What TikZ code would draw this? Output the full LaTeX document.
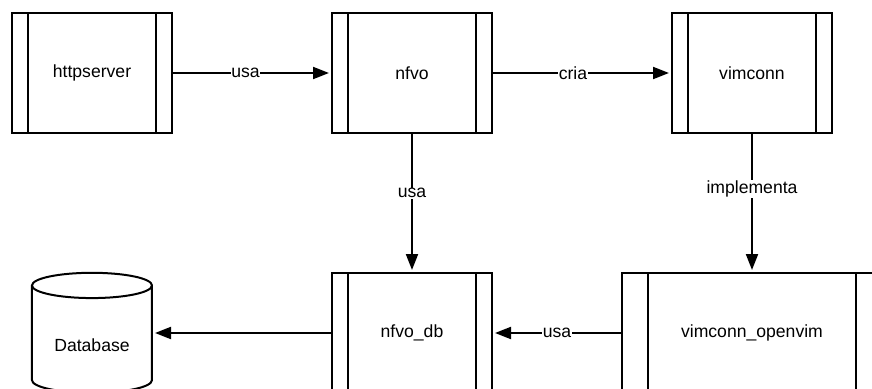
\documentclass[tikz,border=0pt]{standalone}
\usepackage{fontspec}
\setmainfont{Liberation Sans}
\usetikzlibrary{shapes.geometric, arrows.meta, positioning}

\begin{document}
\begin{tikzpicture}[
    x=0.75pt, y=-0.75pt,
    node distance=105pt and 120pt,
    module/.style={rectangle, draw, line width=1.5pt, outer sep=0pt, minimum width=#1, minimum height=90pt, font=\fontsize{13.2pt}{15pt}\selectfont},
    module/.default=120pt,
    bars/.style={path picture={
        \draw[line width=1.5pt] ([xshift=#1]path picture bounding box.north west) -- ([xshift=#1]path picture bounding box.south west);
        \draw[line width=1.5pt] ([xshift=-#1]path picture bounding box.north east) -- ([xshift=-#1]path picture bounding box.south east);
    }},
    bars/.default=12pt,
    store/.style={cylinder, shape border rotate=90, draw, line width=1.5pt, outer sep=0pt, aspect=0.3, minimum width=90pt, minimum height=90pt, text height=14pt, font=\fontsize{13.2pt}{15pt}\selectfont},
    arrow/.style={-{Triangle[length=12pt, width=9pt]}, line width=1.5pt, shorten >=2.25pt},
    tag/.style={fill=white, inner sep=0.5pt, font=\fontsize{13.2pt}{15pt}\selectfont}
]

\useasboundingbox (0,0) rectangle (872,389);
\clip (0,0) rectangle (872,389);

\node[module, bars] at (92,73) (httpserver) {httpserver};
\node[module, bars, right=of httpserver] (nfvo) {nfvo};
\node[module, bars, right=135pt of nfvo] (vimconn) {vimconn};
\node[module, bars, below=of nfvo] (nfvodb) {nfvo\_db};
\node[module=195pt, bars=19.5pt, below=of vimconn] (openvim) {vimconn\_openvim};
\node[store, left=135pt of nfvodb, yshift=-6.75pt] (database) {Database};

\draw[arrow] (httpserver) -- node[tag, pos=.46] {usa} (nfvo);
\draw[arrow] (nfvo) -- node[tag, pos=.45] {cria} (vimconn);
\draw[arrow] (nfvo) -- node[tag, pos=.43] {usa} (nfvodb);
\draw[arrow] (vimconn) -- node[tag, pos=.4] {implementa} (openvim);
\draw[arrow] (openvim) -- node[tag, pos=.5] {usa} (nfvodb);
\draw[arrow] (nfvodb) -- (nfvodb -| database.east);

\end{tikzpicture}
\end{document}
